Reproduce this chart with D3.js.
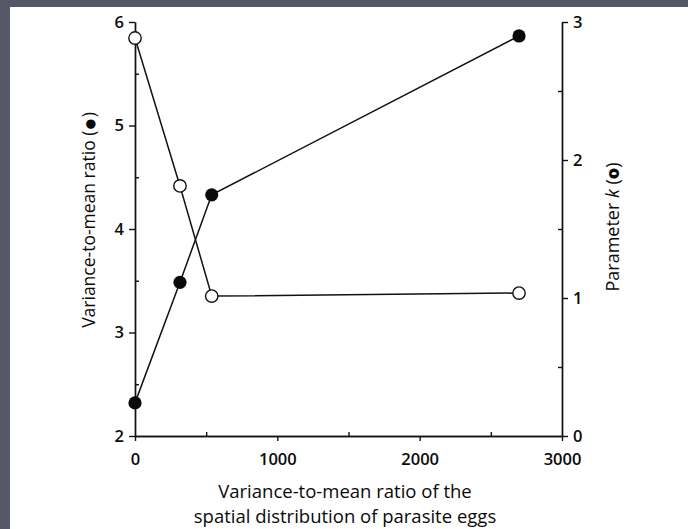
<!DOCTYPE html>
<html>
<head>
<meta charset="utf-8">
<script src="https://cdnjs.cloudflare.com/ajax/libs/d3/7.8.5/d3.min.js"></script>
<style>
  html, body { margin: 0; padding: 0; background: #565868; }
  svg { display: block; }
  text { font-family: "Open Sans", "Noto Sans", sans-serif; fill: #0a0a0a; }
</style>
</head>
<body>
<script>
// Spatial distribution of parasite eggs (x) against two aggregation measures
const eggVMR   = [0, 316, 539, 2698];          // x: variance-to-mean ratio of egg distribution
const hostVMR  = [2.32, 3.485, 4.33, 5.865];    // filled circles, left axis
const paramK   = [2.884, 1.812, 1.014, 1.036];  // open circles, right axis

const xTicks      = [0, 1000, 2000, 3000];
const xMinorTicks = [500, 1500, 2500];
const yLeftTicks  = [2, 3, 4, 5, 6];
const yLeftMinor  = [2.5, 3.5, 4.5, 5.5];
const yRightTicks = [0, 1, 2, 3];
const yRightMinor = [0.5, 1.5, 2.5];

const W = 688, H = 529;
const svg = d3.select("body").append("svg").attr("width", W).attr("height", H);

// white page inside the dark frame
svg.append("rect").attr("x", 10).attr("y", 7).attr("width", W - 10).attr("height", H - 7).attr("fill", "#fff");

const plotLeft = 135, plotRight = 562, plotTop = 22, plotBottom = 436;

const x  = d3.scaleLinear().domain([0, 3000]).range([plotLeft, plotRight]);
const yL = d3.scaleLinear().domain([2, 6]).range([plotBottom, plotTop]);
const yR = d3.scaleLinear().domain([0, 3]).range([plotBottom, plotTop]);

const axisStyle = g => {
  g.selectAll("path, line").attr("stroke", "#111").attr("stroke-width", 1.4);
  g.selectAll("text").attr("font-size", 16.5).attr("font-weight", 600).attr("fill", "#0a0a0a")
    .style("font-family", "'Open Sans', 'Noto Sans', sans-serif");
};

// minor ticks point inward, majors outward
svg.append("g").attr("transform", `translate(0,${plotBottom})`)
  .call(d3.axisTop(x).tickValues(xMinorTicks).tickSize(4).tickFormat("").tickSizeOuter(0))
  .call(axisStyle);
svg.append("g").attr("transform", `translate(0,${plotBottom})`)
  .call(d3.axisBottom(x).tickValues(xTicks).tickSize(5).tickPadding(12).tickSizeOuter(0).tickFormat(d3.format("d")))
  .call(axisStyle);

svg.append("g").attr("transform", `translate(${plotLeft},0)`)
  .call(d3.axisRight(yL).tickValues(yLeftMinor).tickSize(4).tickFormat("").tickSizeOuter(0))
  .call(axisStyle);
svg.append("g").attr("transform", `translate(${plotLeft},0)`)
  .call(d3.axisLeft(yL).tickValues(yLeftTicks).tickSize(6).tickPadding(5).tickSizeOuter(0).tickFormat(d3.format("d")))
  .call(axisStyle);

svg.append("g").attr("transform", `translate(${plotRight},0)`)
  .call(d3.axisLeft(yR).tickValues(yRightMinor).tickSize(4).tickFormat("").tickSizeOuter(0))
  .call(axisStyle);
svg.append("g").attr("transform", `translate(${plotRight},0)`)
  .call(d3.axisRight(yR).tickValues(yRightTicks).tickSize(6).tickPadding(5).tickSizeOuter(0).tickFormat(d3.format("d")))
  .call(axisStyle);

// series lines
const lineL = d3.line().x((d, i) => x(eggVMR[i])).y(d => yL(d));
const lineR = d3.line().x((d, i) => x(eggVMR[i])).y(d => yR(d));

svg.append("path").attr("d", lineR(paramK)).attr("fill", "none").attr("stroke", "#111").attr("stroke-width", 1.5);
svg.append("path").attr("d", lineL(hostVMR)).attr("fill", "none").attr("stroke", "#111").attr("stroke-width", 1.5);

svg.append("g").selectAll("circle").data(paramK).join("circle")
  .attr("cx", (d, i) => x(eggVMR[i])).attr("cy", d => yR(d)).attr("r", 6.2)
  .attr("fill", "#fff").attr("stroke", "#111").attr("stroke-width", 1.4);
svg.append("g").selectAll("circle").data(hostVMR).join("circle")
  .attr("cx", (d, i) => x(eggVMR[i])).attr("cy", d => yL(d)).attr("r", 6.6)
  .attr("fill", "#0a0a0a");

// axis titles
const lt = svg.append("text").attr("text-anchor", "middle").attr("font-size", 17.5).attr("font-weight", 500)
  .attr("transform", `translate(95,220) rotate(-90)`);
lt.append("tspan").text("Variance-to-mean ratio (");
lt.append("tspan").attr("font-size", 22).attr("dy", 2).text("●");
lt.append("tspan").attr("dy", -2).text(")");

const rt = svg.append("text").attr("text-anchor", "middle").attr("font-size", 18).attr("font-weight", 500)
  .attr("transform", `translate(619,227) rotate(-90)`);
rt.append("tspan").text("Parameter ");
rt.append("tspan").attr("font-style", "italic").text("k");
rt.append("tspan").text(" (");
rt.append("tspan").attr("font-weight", 800).text("o");
rt.append("tspan").text(")");

svg.append("text").attr("text-anchor", "middle").attr("font-size", 18.5).attr("font-weight", 500)
  .attr("x", 345).attr("y", 497.5).text("Variance-to-mean ratio of the");
svg.append("text").attr("text-anchor", "middle").attr("font-size", 18.5).attr("font-weight", 500)
  .attr("x", 345).attr("y", 523).text("spatial distribution of parasite eggs");
</script>
</body>
</html>
